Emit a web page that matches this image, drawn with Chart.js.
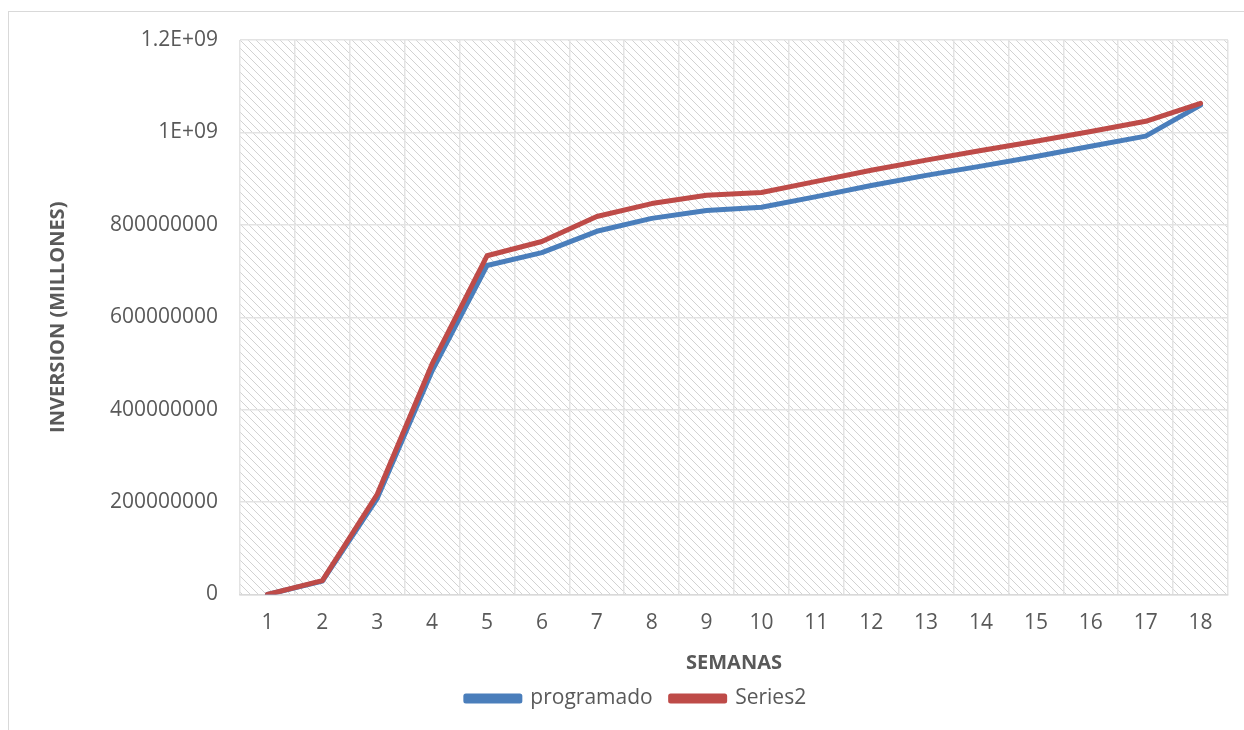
<!DOCTYPE html>
<html>
<head>
<meta charset="utf-8">
<script src="https://cdn.jsdelivr.net/npm/chart.js@4/dist/chart.umd.min.js"></script>
<style>
  html, body { margin: 0; padding: 0; background: #fff; }
  #frame { position: absolute; left: 8px; top: 11px; width: 1300px; height: 800px;
           border-left: 1px solid #d9d9d9; border-top: 1px solid #d9d9d9; }
  #wrap { position: absolute; left: 0; top: 0; width: 1244px; height: 730px; }
</style>
</head>
<body>
<div id="frame"></div>
<div id="wrap"><canvas id="c" width="1244" height="730"></canvas></div>
<script>
const semanas = ["1","2","3","4","5","6","7","8","9","10","11","12","13","14","15","16","17","18"];
const programado = [0, 29000000, 208000000, 484000000, 712000000, 740000000, 786000000, 814000000, 831000000, 838000000, 861000000, 885000000, 907000000, 927000000, 948000000, 970000000, 992000000, 1059000000];
const series2 = [0, 30000000, 217000000, 499000000, 733000000, 764000000, 818000000, 846000000, 864000000, 870000000, 894000000, 918000000, 940000000, 961000000, 981000000, 1002000000, 1024000000, 1063000000];
const yTickLabels = ["0", "200000000", "400000000", "600000000", "800000000", "1E+09", "1.2E+09"];
const yTitle = "INVERSION (MILLONES)";
const xTitle = "SEMANAS";

const FONT = "'Open Sans', 'Liberation Sans', sans-serif";
const TXT = "#595959";

function makePattern(ctx) {
  const p = document.createElement('canvas');
  p.width = 8; p.height = 8;
  const g = p.getContext('2d');
  g.fillStyle = '#ffffff';
  g.fillRect(0, 0, 8, 8);
  g.fillStyle = '#d2d2d2';
  for (let y = 0; y < 8; y++) {
    for (let x = 0; x < 8; x++) {
      const d = ((x - y) % 8 + 8) % 8;
      if ((d === 0 || d === 1) && (x + y) % 2 === 0) g.fillRect(x, y, 1, 1);
    }
  }
  return ctx.createPattern(p, 'repeat');
}

const bgPlugin = {
  id: 'bgPattern',
  beforeDraw(chart) {
    const a = chart.chartArea, ctx = chart.ctx;
    ctx.save();
    ctx.fillStyle = makePattern(ctx);
    ctx.fillRect(a.left, a.top, a.right - a.left, a.bottom - a.top);
    ctx.restore();
  },
  afterDraw(chart) {
    const a = chart.chartArea, ctx = chart.ctx;
    ctx.save();
    ctx.translate(58, (a.top + a.bottom) / 2);
    ctx.rotate(-Math.PI / 2);
    ctx.font = "bold 20px " + FONT;
    ctx.fillStyle = TXT;
    ctx.textAlign = 'center';
    ctx.textBaseline = 'middle';
    ctx.fillText(yTitle, 0, 0);
    ctx.restore();
  }
};

new Chart(document.getElementById('c'), {
  type: 'line',
  data: {
    labels: semanas,
    datasets: [
      { label: 'programado', data: programado, borderColor: '#4a7ebb', backgroundColor: '#4a7ebb',
        borderWidth: 5, pointRadius: 0, tension: 0, order: 1, borderCapStyle: 'round', borderJoinStyle: 'round' },
      { label: 'Series2', data: series2, borderColor: '#be4b48', backgroundColor: '#be4b48',
        borderWidth: 5, pointRadius: 0, tension: 0, order: 0, borderCapStyle: 'round', borderJoinStyle: 'round' }
    ]
  },
  options: {
    responsive: false,
    animation: false,
    layout: { padding: { left: 44, right: 16, top: 40, bottom: 11 } },
    plugins: {
      tooltip: { enabled: false },
      legend: {
        position: 'bottom',
        labels: {
          font: { family: FONT, size: 21 }, color: TXT,
          boxWidth: 54, boxHeight: 5, padding: 18,
          sort: (a, b) => a.datasetIndex - b.datasetIndex
        }
      }
    },
    scales: {
      x: {
        offset: true,
        grid: { offset: true, color: '#e3e3e3', lineWidth: 1.5, drawTicks: false },
        border: { color: '#d9d9d9', width: 1.5 },
        ticks: { font: { family: FONT, size: 21 }, color: TXT, padding: 16, maxRotation: 0 },
        title: { display: true, text: xTitle, font: { family: FONT, size: 20, weight: 'bold' }, color: TXT,
                 padding: { top: 0, bottom: -5 } },
        afterFit(scale) { scale.height = 75.5; }
      },
      y: {
        min: 0, max: 1200000000,
        ticks: {
          stepSize: 200000000,
          font: { family: FONT, size: 21 }, color: TXT, padding: 22,
          callback: (v, i) => yTickLabels[i]
        },
        grid: { color: '#e3e3e3', lineWidth: 1.5, drawTicks: false },
        border: { display: false },
        title: { display: false },
        afterFit(scale) { scale.width = 196; }
      }
    }
  },
  plugins: [bgPlugin]
});
</script>
</body>
</html>
